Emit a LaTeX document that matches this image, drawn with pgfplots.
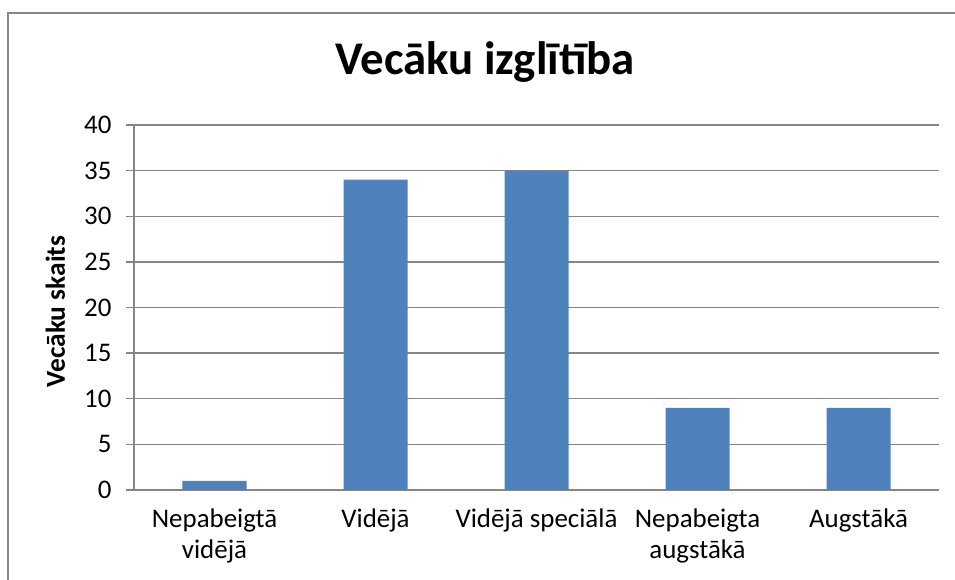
\documentclass[border=0pt]{standalone}
\usepackage{fontspec}
\setmainfont{Carlito}
\usepackage{pgfplots}
\pgfplotsset{compat=1.18}
\definecolor{barblue}{RGB}{79,129,189}
\definecolor{axgray}{RGB}{134,134,134}
\begin{document}
\begin{tikzpicture}[x=1bp,y=1bp]
\useasboundingbox (-134,-90) rectangle (821,490);
\draw[axgray, line width=1.3bp] (-126,-92) -- (-126,477) -- (823,477);
\begin{axis}[
  at={(0,0)}, anchor=south west,
  scale only axis, width=805bp, height=365bp,
  xmin=-0.5, xmax=4.5, ymin=0, ymax=40,
  ytick={0,5,...,40},
  xtick={0,1,2,3,4},
  xticklabels={{Nepabeigtā\\vidējā},{Vidējā},{Vidējā speciālā},{Nepabeigta\\augstākā},{Augstākā}},
  ymajorgrids, grid style={axgray, line width=1.3bp},
  axis x line*=bottom, axis y line*=left,
  axis line style={axgray, line width=1.3bp},
  tick align=outside, major tick length=8bp,
  ytick style={axgray, line width=1.3bp},
  xtick style={draw=none},
  /pgf/number format/assume math mode=true,
  yticklabel style={font=\fontsize{27}{32}\selectfont, anchor=east, xshift=-11bp},
  xticklabel style={font=\fontsize{27}{31}\selectfont, align=center, anchor=north, yshift=-7bp},
  ybar, bar width=64bp,
]
\addplot[fill=barblue, draw=none] coordinates {(0,1) (1,34) (2,35) (3,9) (4,9)};
\end{axis}
\node[rotate=90, anchor=base, font=\bfseries\fontsize{27.5}{32}\selectfont] at (-69,178.5) {Vecāku skaits};
\node[anchor=base, font=\bfseries\fontsize{47}{56}\selectfont] at (351,415) {Vecāku izglītība};
\end{tikzpicture}
\end{document}
